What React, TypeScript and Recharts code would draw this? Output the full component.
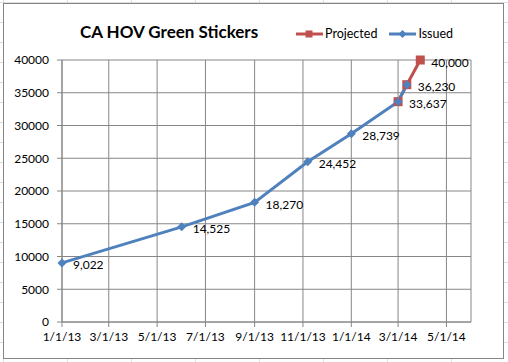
import { LineChart, Line, XAxis, YAxis, CartesianGrid, LabelList } from 'recharts';

// point dates (x), values per series
const pointDates = ['2013-01-01', '2013-06-01', '2013-09-01', '2013-11-07', '2014-01-01', '2014-03-01', '2014-03-12', '2014-03-29'];
const issued = [9022, 14525, 18270, 24452, 28739, 33637, 36230, null];
const projected = [null, null, null, null, null, 33637, 36230, 40000];

const xTickDates = ['2013-01-01', '2013-03-01', '2013-05-01', '2013-07-01', '2013-09-01', '2013-11-01', '2014-01-01', '2014-03-01', '2014-05-01'];
const xTickLabels = ['1/1/13', '3/1/13', '5/1/13', '7/1/13', '9/1/13', '11/1/13', '1/1/14', '3/1/14', '5/1/14'];
const yTicks = [0, 5000, 10000, 15000, 20000, 25000, 30000, 35000, 40000];
const xDomainDates = ['2013-01-01', '2014-06-01'];

const toTime = (d: string) => new Date(d + 'T00:00:00Z').getTime();

const chartData = pointDates.map((d, i) => ({
  t: toTime(d),
  issued: issued[i],
  projected: projected[i],
}));

const xTicks = xTickDates.map(toTime);
const tickLabel = (v: number) => xTickLabels[xTicks.indexOf(v)] ?? '';

const BLUE = '#4f81bd';
const RED = '#c0504d';
const GRID = '#868686';
const FONT = 'Lato, "Open Sans", sans-serif';

const Diamond = (props: any) => {
  const { cx, cy } = props;
  if (cx == null || cy == null || props.value == null) return null;
  const r = 4.5;
  return <polygon points={`${cx},${cy - r} ${cx + r},${cy} ${cx},${cy + r} ${cx - r},${cy}`} fill={BLUE} />;
};

const Square = (props: any) => {
  const { cx, cy } = props;
  if (cx == null || cy == null || props.value == null) return null;
  return <rect x={cx - 4.5} y={cy - 4.5} width={9} height={9} fill={RED} />;
};

const ValueLabel = (props: any) => {
  const { x, y, value } = props;
  if (value == null) return null;
  return (
    <text x={x + 11} y={y + 2} fontSize={12} fontFamily={FONT} fill="#000" dominantBaseline="central">
      {value.toLocaleString('en-US')}
    </text>
  );
};

const ProjectedLabel = (props: any) => {
  if (props.value !== 40000) return null;
  return <ValueLabel {...props} />;
};

const LegendItem = ({ color, label, square }: { color: string; label: string; square: boolean }) => (
  <span style={{ display: 'inline-flex', alignItems: 'center', marginRight: 12 }}>
    <svg width={28} height={10}>
      <line x1={0} y1={5} x2={27} y2={5} stroke={color} strokeWidth={3} />
      {square ? (
        <rect x={9.5} y={1.5} width={7} height={7} fill={color} />
      ) : (
        <polygon points="13.5,1 17.5,5 13.5,9 9.5,5" fill={color} />
      )}
    </svg>
    <span style={{ marginLeft: 1 }}>{label}</span>
  </span>
);

export default function App() {
  return (
    <div
      style={{
        position: 'fixed',
        left: 0,
        top: 0,
        width: 508,
        height: 362,
        background: '#fff',
        backgroundImage:
          'linear-gradient(to right, #dadcdd 1px, transparent 1px), linear-gradient(to bottom, #dadcdd 1px, transparent 1px)',
        backgroundSize: '64px 20px',
        backgroundPosition: '3px 2px',
        fontFamily: FONT,
      }}
    >
      <div
        style={{
          position: 'absolute',
          left: 3,
          top: 3,
          width: 499,
          height: 354,
          border: `1px solid ${GRID}`,
          background: '#fff',
        }}
      />
      <div style={{ position: 'absolute', left: 0, top: 0 }}>
        <LineChart width={508} height={362} data={chartData} margin={{ top: 60, right: 37, left: 0, bottom: 4 }}>
          <CartesianGrid stroke={GRID} strokeWidth={1} />
          <XAxis
            dataKey="t"
            type="number"
            domain={xDomainDates.map(toTime)}
            ticks={xTicks}
            tickFormatter={tickLabel}
            stroke={GRID}
            tickSize={5}
            tickMargin={5}
            height={36}
            tick={{ fill: '#000', fontSize: 12, fontFamily: FONT }}
            interval={0}
          />
          <YAxis
            type="number"
            domain={[0, 40000]}
            ticks={yTicks}
            stroke={GRID}
            tickSize={5}
            tickMargin={8}
            width={62}
            tick={{ fill: '#000', fontSize: 12, fontFamily: FONT }}
            interval={0}
          />
          <Line
            dataKey="projected"
            stroke={RED}
            strokeWidth={3}
            dot={<Square />}
            activeDot={false}
            isAnimationActive={false}
          >
            <LabelList dataKey="projected" content={<ProjectedLabel />} />
          </Line>
          <Line
            dataKey="issued"
            stroke={BLUE}
            strokeWidth={3}
            dot={<Diamond />}
            activeDot={false}
            isAnimationActive={false}
          >
            <LabelList dataKey="issued" content={<ValueLabel />} />
          </Line>
        </LineChart>
      </div>
      <div
        style={{
          position: 'absolute',
          left: 80,
          top: 21,
          fontSize: 17,
          fontWeight: 700,
          color: '#000',
          whiteSpace: 'nowrap',
        }}
      >
        CA HOV Green Stickers
      </div>
      <div
        style={{
          position: 'absolute',
          left: 296,
          top: 26,
          fontSize: 12.5,
          color: '#000',
          display: 'flex',
          whiteSpace: 'nowrap',
        }}
      >
        <LegendItem color={RED} label="Projected" square />
        <LegendItem color={BLUE} label="Issued" square={false} />
      </div>
    </div>
  );
}
